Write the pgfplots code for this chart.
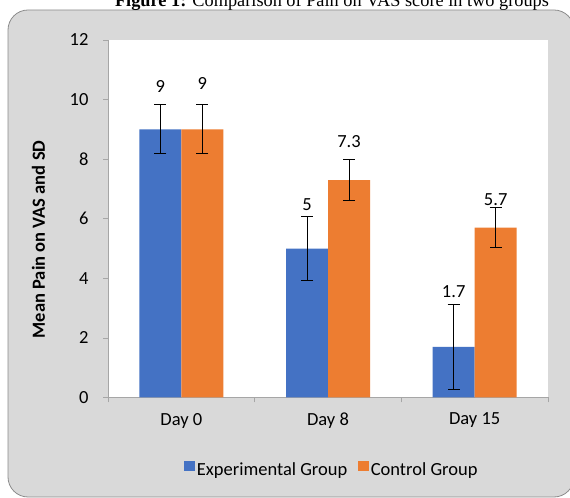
\documentclass[border=0pt]{standalone}
\usepackage{pgfplots}
\pgfplotsset{compat=1.18}
\usepackage{fontspec}
\setmainfont{Carlito}
\newfontfamily\titlefont{Liberation Serif}
\definecolor{expblue}{HTML}{4472C4}
\definecolor{ctrlorange}{HTML}{ED7D31}
\definecolor{chartbg}{HTML}{D9D9D9}
\definecolor{axisgray}{HTML}{A6A6A6}
\definecolor{framegray}{HTML}{8C8C8C}
\newcommand{\cfont}{\fontsize{18.5bp}{21bp}\selectfont}
\begin{document}
\begin{tikzpicture}[x=1bp,y=1bp]
\useasboundingbox (0,0) rectangle (570,498);
\clip (0,0) rectangle (570,498);
\draw[fill=chartbg, draw=framegray, line width=0.8bp, rounded corners=20bp] (8,1) rectangle (574,488);
\node[anchor=base, inner sep=0pt, font=\titlefont\fontsize{18.3bp}{22bp}\selectfont] at (332,491) {\textbf{Figure 1:} Comparison of Pain on VAS score in two groups};
\begin{axis}[
  at={(108bp,100.5bp)}, anchor=south west,
  scale only axis, width=440bp, height=357.5bp,
  xmin=-0.5, xmax=2.5, ymin=0, ymax=12,
  ybar, bar width=42bp,
  axis background/.style={fill=white},
  axis x line=bottom, axis y line=left,
  axis line style={-, draw=axisgray, line width=0.8bp},
  tick align=outside, major tick length=5bp,
  tick style={draw=axisgray, line width=0.8bp},
  /pgf/number format/assume math mode=true,
  ytick={0,2,4,6,8,10,12},
  yticklabel style={font=\cfont, text=black, xshift=-11bp},
  xtick={-0.5,0.5,1.5,2.5}, xticklabels={,,,},
  extra x ticks={0,1,2}, extra x tick labels={Day 0,Day 8,Day 15},
  extra x tick style={major tick length=0pt, xticklabel style={font=\cfont, text=black, yshift=-12bp}},
  ylabel={Mean Pain on VAS and SD},
  ylabel style={at={(rel axis cs:-0.1432,0.442)}, anchor=base, font=\bfseries\cfont},
  legend style={draw=none, fill=none, legend columns=2, font=\cfont,
    /tikz/every even column/.append style={column sep=9bp},
    at={(rel axis cs:0.509,-0.203)}, anchor=center},
  legend image code/.code={\fill[#1] (0bp,-0.5bp) rectangle (10.5bp,9.5bp);},
]
\addplot[bar shift=-21bp, fill=expblue, draw=none,
  error bars/.cd, y dir=both, y explicit, error mark=-,
  error bar style={black, line width=1bp},
  error mark options={black, rotate=90, mark size=6bp, line width=1bp}]
  coordinates {(0,9) +- (0,0.82) (1,5) +- (0,1.06) (2,1.7) +- (0,1.42)};
\addplot[bar shift=21bp, fill=ctrlorange, draw=none,
  error bars/.cd, y dir=both, y explicit, error mark=-,
  error bar style={black, line width=1bp},
  error mark options={black, rotate=90, mark size=6bp, line width=1bp}]
  coordinates {(0,9) +- (0,0.82) (1,7.3) +- (0,0.68) (2,5.7) +- (0,0.67)};
\legend{Experimental Group, Control Group}
\addplot[bar shift=0bp, draw=none, fill=none, forget plot, nodes near coords, point meta=explicit symbolic,
  nodes near coords style={anchor=base, font=\cfont, text=black, inner sep=0pt}]
  coordinates {(-0.1432,10.25) [9] (0.1432,10.34) [9] (0.8568,6.27) [5] (1.1432,8.40) [7.3] (1.8568,3.35) [1.7] (2.1432,6.45) [5.7]};
\end{axis}
\end{tikzpicture}
\end{document}
